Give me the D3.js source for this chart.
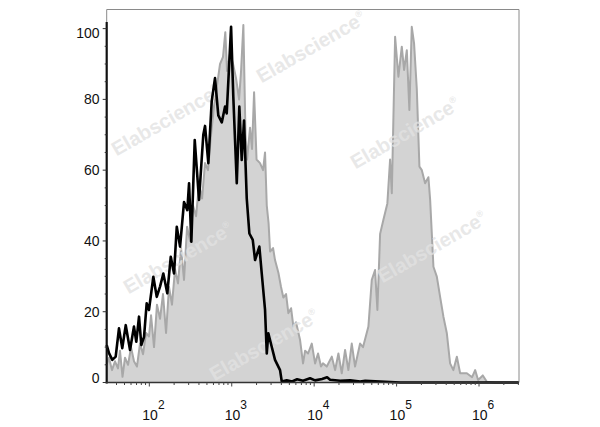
<!DOCTYPE html>
<html><head><meta charset="utf-8">
<script src="https://cdn.jsdelivr.net/npm/d3@7/dist/d3.min.js"></script>
<style>body{margin:0;background:#fff}svg{display:block}</style>
</head><body>
<svg id="c" width="600" height="427"></svg>
<script>
// log10 fluorescence positions and event counts (% of max)
const grayLog = [1.483,1.511,1.547,1.584,1.620,1.644,1.675,1.705,1.742,1.778,1.814,1.850,1.887,1.924,1.960,1.996,2.021,2.057,2.093,2.130,2.166,2.203,2.239,2.275,2.312,2.348,2.385,2.421,2.458,2.494,2.530,2.567,2.603,2.640,2.676,2.712,2.749,2.785,2.822,2.858,2.894,2.922,2.943,2.979,3.016,3.052,3.089,3.113,3.141,3.167,3.186,3.222,3.246,3.271,3.301,3.343,3.380,3.404,3.425,3.447,3.465,3.501,3.525,3.566,3.598,3.626,3.659,3.687,3.720,3.748,3.780,3.829,3.865,3.890,3.926,3.971,4.011,4.047,4.083,4.107,4.153,4.214,4.254,4.294,4.335,4.375,4.415,4.456,4.496,4.557,4.593,4.658,4.699,4.739,4.767,4.800,4.840,4.888,4.921,4.942,4.982,5.022,5.063,5.091,5.124,5.155,5.184,5.212,5.245,5.277,5.306,5.346,5.386,5.407,5.447,5.488,5.528,5.568,5.609,5.649,5.689,5.731,5.771,5.852,5.916,5.953,5.989,6.046,6.095,6.195,6.485];
const grayVal = [5,7,3.5,6,4,9,1.6,7,5,10,6,4.5,11,8,14,13,19,10,22,18,25,14,27,22,32,28,38,29,44,40,50,47,56,52,62,60,70,78,84,90,92,99,88,93,90,86,80,88,101,70,63,72,66,82,63,62,60,65,50,45,37,38,34.6,31,27,24,25,19.6,21,15.8,17,12,5.4,9,8.2,11,5.4,8.2,4.5,5.4,4.5,7.3,3.5,8.2,2.6,9.2,3.5,11,4.5,11,10,15.8,29,31.8,20.5,42,46,50.6,63,53.5,97.7,86.4,94.9,88.3,93.9,77,100.5,95.8,83,61,60,56.3,58,51.6,32.7,29.9,24.2,18.6,14,5.4,3.5,7.3,2.6,2.6,1.5,3.5,0.7,2,0.2,0,0];

const blackLog = [1.483,1.511,1.551,1.592,1.632,1.672,1.714,1.766,1.814,1.842,1.875,1.903,1.936,1.968,1.996,2.049,2.090,2.130,2.170,2.218,2.260,2.300,2.333,2.373,2.421,2.461,2.482,2.510,2.551,2.603,2.655,2.676,2.716,2.757,2.797,2.837,2.879,2.919,2.939,2.992,3.019,3.061,3.092,3.121,3.149,3.182,3.214,3.255,3.283,3.335,3.364,3.404,3.425,3.444,3.485,3.525,3.586,3.607,3.667,3.732,3.793,3.865,3.950,4.011,4.096,4.157,4.193,4.315,4.436,4.558,4.619,4.801,5.044,6.485];
const blackVal = [10.6,8.3,6.4,7.3,15.3,9.7,16.2,9.2,15.8,11.5,18.6,10.6,12.9,22.4,20.5,29.9,24.2,27.1,30.8,25.2,35.5,30.8,44,38.4,51,48.7,56.3,39.8,68.5,51.6,70,72.5,62,79.5,86,75.5,73.5,78,76,100.5,80.7,56.3,78,62.9,74,52,42.1,40.3,34.6,38.4,30.8,20.5,8.2,13.9,10.1,6.4,3.5,0.3,0.6,0.3,0.9,0.5,1.2,0.6,1.0,1.5,0.8,0.5,0.6,0.3,0.5,0.3,0,0];

const yTicks = [0,20,40,60,80,100];
const xTickExp = [2,3,4,5,6];
const xDomainLog = [1.483, 6.485];
const yMax = 105.4;

const watermarks = [[166,120],[311,47],[405,133],[178,258],[432,247],[264,345]];

const svg = d3.select('#c');
const L = 106.7, R = 519, T = 9.5, B = 382.5;
const x = d3.scaleLog().domain(xDomainLog.map(v => Math.pow(10, v))).range([L, R]);
const y = d3.scaleLinear().domain([0, yMax]).range([B, T]);

const gray = grayLog.map((l, i) => [Math.pow(10, l), grayVal[i]]);
const black = blackLog.map((l, i) => [Math.pow(10, l), blackVal[i]]);

svg.append('path').datum(gray)
  .attr('d', d3.area().x(d => x(d[0])).y0(y(0)).y1(d => y(d[1])))
  .attr('fill', '#d3d3d3');
svg.append('path').datum(gray)
  .attr('d', d3.line().x(d => x(d[0])).y(d => y(d[1])))
  .attr('fill', 'none').attr('stroke', '#a8a8a8').attr('stroke-width', 2).attr('stroke-linejoin', 'round');

// watermarks
const wm = svg.append('g');
watermarks.forEach(p => {
  const t = wm.append('text')
    .attr('transform', `translate(${p[0]},${p[1]}) rotate(-30)`)
    .attr('text-anchor', 'middle').attr('dy', '0.35em')
    .attr('font-family', 'Liberation Sans, Arial, sans-serif')
    .attr('font-weight', 'bold').attr('font-size', 20)
    .attr('fill', '#e2e2e2').attr('fill-opacity', 0.8);
  t.append('tspan').text('Elabscience');
  t.append('tspan').attr('font-size', 9).attr('dy', -9).text('®');
});

svg.append('path').datum(black)
  .attr('d', d3.line().x(d => x(d[0])).y(d => y(d[1])))
  .attr('fill', 'none').attr('stroke', '#000').attr('stroke-width', 2.6).attr('stroke-linejoin', 'round');

// frame
svg.append('path').attr('d', `M${L},22 L${L},${T} L${R},${T} L${R},${B}`)
  .attr('fill', 'none').attr('stroke', '#8a8a8a').attr('stroke-width', 1);
svg.append('line').attr('x1', L).attr('x2', L).attr('y1', 22).attr('y2', B + 1)
  .attr('stroke', '#111').attr('stroke-width', 2.2);
svg.append('line').attr('x1', L - 1).attr('x2', R).attr('y1', B).attr('y2', B)
  .attr('stroke', '#333').attr('stroke-width', 1.5);

// y axis ticks
const font = 'Liberation Sans, Arial, sans-serif';
const gy = svg.append('g');
d3.range(0, 101, 5).forEach(v => {
  const major = v % 20 === 0;
  gy.append('line').attr('x1', L - (major ? 4 : 2)).attr('x2', L).attr('y1', y(v)).attr('y2', y(v))
    .attr('stroke', '#333').attr('stroke-width', 1);
});
yTicks.forEach(v => {
  gy.append('text').attr('x', 99.5).attr('y', y(v) + (v === 0 ? -4.5 : v === 100 ? 4 : 0))
    .attr('dy', '0.35em').attr('text-anchor', 'end')
    .attr('font-family', font).attr('font-size', 14).attr('fill', '#111').text(v);
});

// x axis ticks
const gx = svg.append('g');
for (let e = 1; e <= 6; e++) {
  for (let m = 1; m <= 9; m++) {
    const v = m * Math.pow(10, e);
    if (x(v) < L || x(v) > R) continue;
    gx.append('line').attr('x1', x(v)).attr('x2', x(v)).attr('y1', B).attr('y2', B + (m === 1 ? 4 : 2.5))
      .attr('stroke', '#444').attr('stroke-width', 1);
  }
}
xTickExp.forEach(e => {
  const t = gx.append('text').attr('x', x(Math.pow(10, e)) - 7).attr('y', 419.5)
    .attr('font-family', font).attr('font-size', 14).attr('fill', '#111');
  t.append('tspan').text('10');
  t.append('tspan').attr('font-size', 12).attr('dy', -11).text(e);
});
</script>
</body></html>
